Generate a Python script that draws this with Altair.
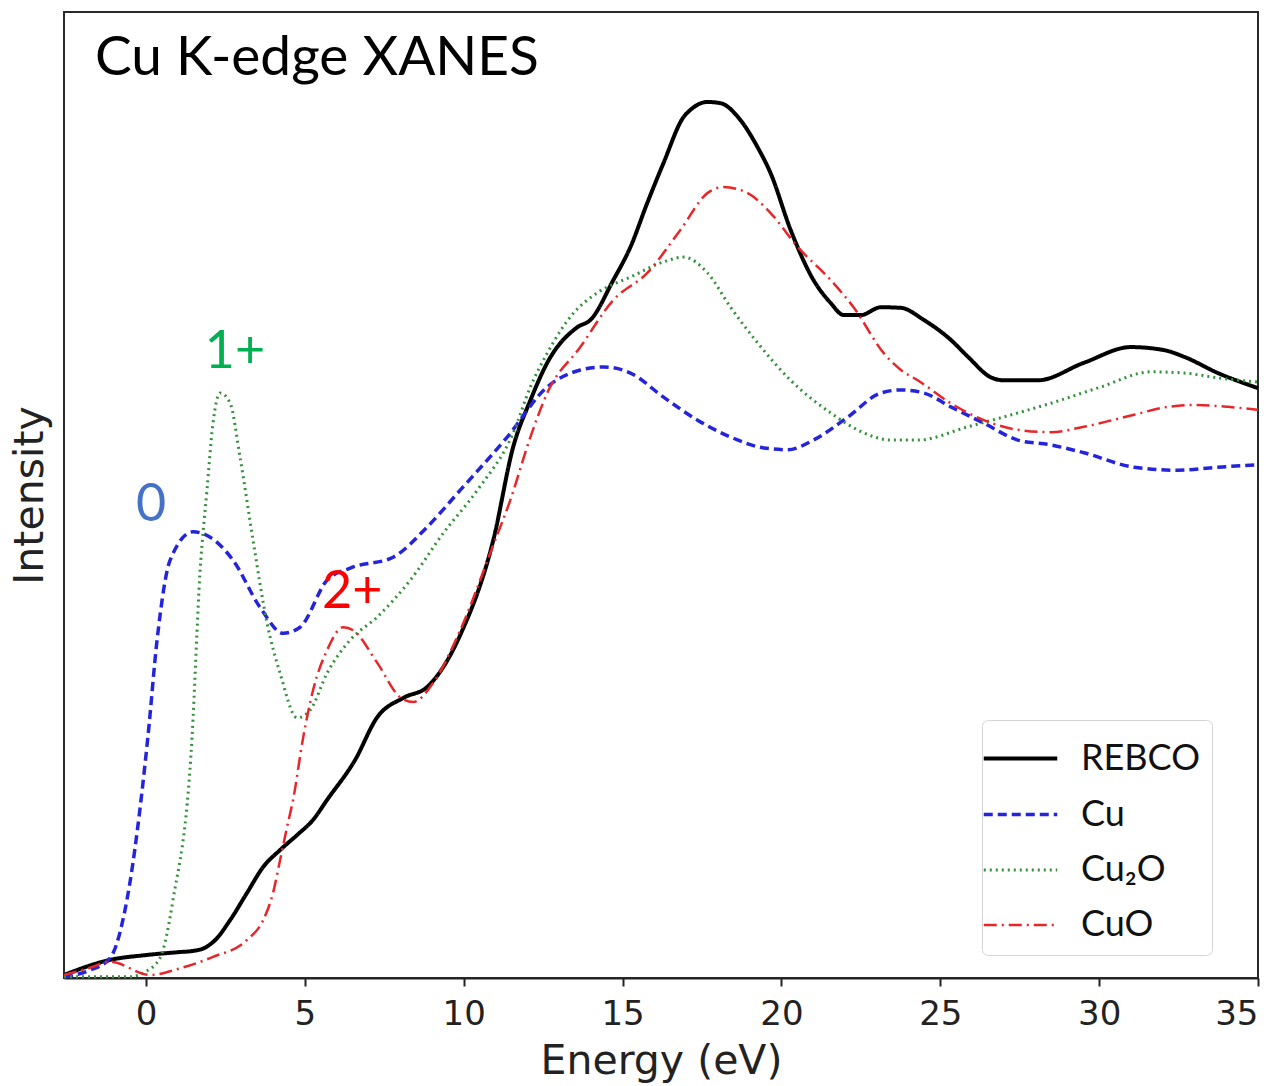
import altair as alt
import pandas as pd

# Cu K-edge XANES spectra (energy relative to the edge, eV; normalised intensity)
energy_rebco = [-2.58, -1.13, 0.0, 1.07, 1.5, 1.85, 2.2, 2.65, 3.18, 3.69, 4.22, 4.76, 5.26, 5.7,
                6.58, 7.28, 8.1, 8.85, 9.89, 10.93, 11.56, 12.1, 12.63, 13.58, 13.99, 14.71,
                15.25, 15.78, 16.29, 16.92, 17.14, 17.67, 18.08, 18.71, 19.25, 19.66, 20.29,
                21.01, 21.55, 21.96, 22.5, 23.13, 23.76, 24.48, 25.33, 25.87, 26.59, 27.0,
                28.07, 29.52, 31.0, 32.04, 32.67, 33.74, 35.0]
intensity_rebco = [0.005, 0.030, 0.038, 0.043, 0.045, 0.050, 0.064, 0.096, 0.141, 0.184, 0.212,
                   0.237, 0.262, 0.295, 0.361, 0.432, 0.464, 0.482, 0.568, 0.725, 0.880, 0.957,
                   1.019, 1.078, 1.090, 1.156, 1.211, 1.284, 1.350, 1.426, 1.438, 1.451, 1.449,
                   1.421, 1.376, 1.333, 1.239, 1.156, 1.118, 1.098, 1.098, 1.111, 1.110, 1.090,
                   1.057, 1.029, 0.995, 0.990, 0.990, 1.019, 1.045, 1.040, 1.029, 1.002, 0.977]

energy_cu = [-2.58, -1.76, -1.13, -0.6, 0.06, 0.35, 0.76, 1.48, 2.02, 2.74, 3.59, 4.32, 4.85,
             5.7, 6.43, 7.78, 8.85, 9.89, 11.37, 12.63, 13.67, 14.4, 15.25, 16.29, 17.36, 18.4,
             19.44, 20.2, 21.01, 22.09, 23.13, 23.76, 24.48, 25.33, 26.37, 27.44, 28.48, 29.52,
             31.1, 32.48, 33.74, 35.0]
intensity_cu = [0.002, 0.013, 0.033, 0.129, 0.399, 0.560, 0.692, 0.739, 0.730, 0.692, 0.614,
                0.571, 0.581, 0.659, 0.679, 0.697, 0.747, 0.808, 0.896, 0.979, 1.007, 1.012,
                1.002, 0.962, 0.924, 0.896, 0.878, 0.875, 0.891, 0.929, 0.969, 0.974, 0.969,
                0.946, 0.919, 0.891, 0.883, 0.870, 0.846, 0.841, 0.846, 0.850]

energy_cu2o = [-2.58, -0.5, -0.03, 0.44, 0.85, 1.45, 1.7, 1.92, 2.11, 2.33, 2.65, 2.96, 3.37,
               3.81, 4.22, 4.76, 5.17, 5.7, 6.43, 7.28, 8.32, 9.36, 10.43, 11.56, 12.1, 12.63,
               13.45, 14.21, 15.25, 16.29, 16.92, 17.67, 18.4, 19.25, 20.29, 21.55, 22.59,
               23.44, 24.29, 25.87, 26.91, 28.48, 30.06, 31.63, 32.67, 33.74, 35.0]
intensity_cu2o = [0.002, 0.002, 0.010, 0.033, 0.129, 0.399, 0.671, 0.808, 0.919, 0.969, 0.952,
                  0.863, 0.725, 0.588, 0.505, 0.431, 0.444, 0.505, 0.560, 0.598, 0.659, 0.737,
                  0.808, 0.903, 0.979, 1.035, 1.101, 1.135, 1.161, 1.186, 1.194, 1.168, 1.111,
                  1.052, 0.990, 0.936, 0.903, 0.891, 0.891, 0.913, 0.928, 0.952, 0.979, 1.004,
                  1.002, 0.994, 0.987]

energy_cuo = [-2.58, -1.76, -1.13, 0.13, 1.07, 2.11, 3.18, 3.69, 4.0, 4.22, 4.44, 4.63, 4.95,
              5.26, 5.7, 6.21, 6.52, 7.28, 8.0, 8.41, 9.04, 9.89, 10.93, 11.47, 12.1, 12.63,
              13.67, 14.71, 15.78, 16.82, 17.67, 18.18, 18.94, 19.66, 20.51, 21.55, 22.27,
              23.22, 23.76, 24.29, 25.33, 26.37, 27.44, 28.48, 29.52, 31.1, 32.17, 32.99,
              34.06, 35.0]
intensity_cuo = [0.005, 0.017, 0.027, 0.005, 0.016, 0.035, 0.063, 0.096, 0.141, 0.195, 0.250,
                 0.295, 0.399, 0.477, 0.543, 0.581, 0.576, 0.522, 0.465, 0.457, 0.489, 0.576,
                 0.717, 0.792, 0.896, 0.969, 1.045, 1.123, 1.168, 1.239, 1.300, 1.310, 1.300,
                 1.267, 1.211, 1.156, 1.111, 1.035, 1.007, 0.990, 0.952, 0.924, 0.908, 0.904,
                 0.913, 0.933, 0.946, 0.949, 0.946, 0.941]

sample_names = ["REBCO", "Cu", "Cu₂O", "CuO"]
line_colors = ["#000000", "#2424dc", "#34903a", "#e8262a"]
line_dashes = [[1, 0], [9, 5], [2, 4], [13, 5, 2, 5]]
line_widths = [4, 2.5, 2.5, 2.5]

# oxidation-state labels placed beside the characteristic pre-edge features
state_labels = ["0", "1+", "2+"]
state_energy = [0.16, 2.8, 6.49]
state_intensity = [0.783, 1.037, 0.639]
state_colors = ["#4472C4", "#00B050", "#FF0000"]

rows = []
for name, es, ys in [
    ("REBCO", energy_rebco, intensity_rebco),
    ("Cu", energy_cu, intensity_cu),
    ("Cu₂O", energy_cu2o, intensity_cu2o),
    ("CuO", energy_cuo, intensity_cuo),
]:
    for e, y in zip(es, ys):
        rows.append({"sample": name, "energy": e, "intensity": y})
spectra = pd.DataFrame(rows)

labels_df = pd.DataFrame({
    "label": state_labels,
    "energy": state_energy,
    "intensity": state_intensity,
    "color": state_colors,
})

x_scale = alt.Scale(domain=[-2.58, 35], nice=False, zero=False)
y_scale = alt.Scale(domain=[0, 1.6], nice=False, zero=False)

# wide horizontal stroke as the legend swatch; layout box stays compact
legend = alt.Legend(
    title=None,
    orient="none",
    legendX=918,
    legendY=708,
    symbolType="M-1.5,0H1.5",
    symbolSize=2400,
    labelFont="Lato",
    labelFontSize=36,
    labelColor="#111111",
    labelOffset=34,
    rowPadding=11,
    padding=12,
    strokeColor="#d4d4d4",
    fillColor="white",
    cornerRadius=6,
)

lines = alt.Chart(spectra).mark_line(interpolate="monotone").encode(
    x=alt.X(
        "energy:Q",
        scale=x_scale,
        axis=alt.Axis(
            title="Energy (eV)",
            values=[0, 5, 10, 15, 20, 25, 30, 35],
            grid=False,
        ),
    ),
    y=alt.Y(
        "intensity:Q",
        scale=y_scale,
        axis=alt.Axis(title="Intensity", labels=False, ticks=False, domain=False, grid=False),
    ),
    color=alt.Color("sample:N", scale=alt.Scale(domain=sample_names, range=line_colors), legend=legend),
    strokeDash=alt.StrokeDash("sample:N", scale=alt.Scale(domain=sample_names, range=line_dashes), legend=legend),
    strokeWidth=alt.StrokeWidth("sample:N", scale=alt.Scale(domain=sample_names, range=line_widths), legend=legend),
    order=alt.Order("energy:Q"),
)

state_text = alt.Chart(labels_df).mark_text(
    font="Lato", fontSize=52, align="center", baseline="middle"
).encode(
    x=alt.X("energy:Q", scale=x_scale),
    y=alt.Y("intensity:Q", scale=y_scale),
    text="label:N",
    color=alt.Color("color:N", scale=None),
)

heading = alt.Chart(pd.DataFrame({"t": ["Cu K-edge XANES"]})).mark_text(
    font="Lato", fontSize=55, align="left", baseline="middle", color="black"
).encode(
    x=alt.value(31),
    y=alt.value(46),
    text="t:N",
)

chart = alt.layer(lines, state_text, heading).properties(
    width=1194,
    height=966,
    autosize=alt.AutoSizeParams(type="none"),
    padding={"left": 64, "top": 12, "right": 26, "bottom": 108},
).configure_view(
    stroke="#2a2a2a",
    strokeWidth=2,
).configure_axis(
    labelFont="DejaVu Sans",
    labelFontSize=34,
    labelColor="#222222",
    labelPadding=11,
    titleFont="DejaVu Sans",
    titleFontSize=41,
    titleFontWeight="normal",
    titleColor="#222222",
    domainColor="#222222",
    domainWidth=2,
    tickColor="#222222",
    tickWidth=2,
    tickSize=8,
).configure_axisX(
    titlePadding=10,
).configure_axisY(
    titlePadding=13,
)

chart.save("out.html", embed_options={"renderer": "svg", "actions": False})
